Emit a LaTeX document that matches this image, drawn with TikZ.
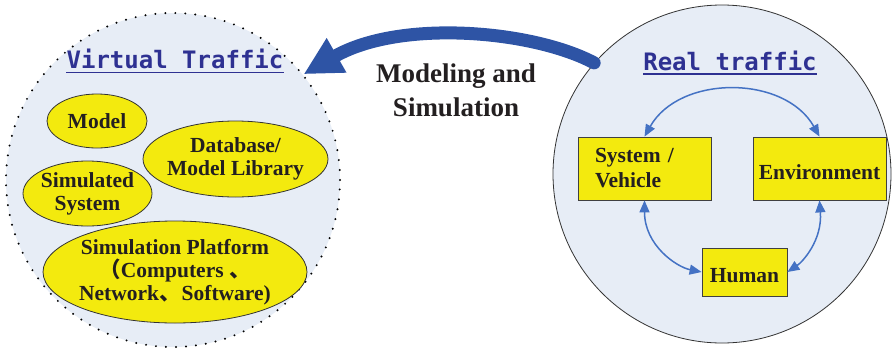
\documentclass[tikz,border=0pt]{standalone}
\usepackage{fontspec}
\setmainfont{Liberation Serif}
\newfontfamily\monofont{DejaVu Sans Mono}
\newfontfamily\cjk{Noto Sans CJK SC}
\usetikzlibrary{shapes.geometric,arrows.meta}
\definecolor{bgblue}{RGB}{231,237,246}
\definecolor{ylw}{RGB}{243,234,14}
\definecolor{titleblue}{RGB}{46,49,146}
\definecolor{arrowblue}{RGB}{68,114,196}
\definecolor{bigblue}{RGB}{46,84,165}
\definecolor{txt}{RGB}{35,31,32}
\begin{document}
\begin{tikzpicture}[x=1pt,y=-1pt,
  txtstyle/.style={font=\fontsize{21.5}{23}\selectfont\bfseries, text=txt, align=center},
  ell/.style={ellipse, draw=black!80, line width=0.8pt, fill=ylw, inner sep=0pt},
  box/.style={rectangle, draw=black!75, line width=0.8pt, fill=ylw, inner sep=0pt, txtstyle},
  title/.style={font=\monofont\bfseries\fontsize{24}{24}\selectfont, text=titleblue, inner sep=0pt},
  uline/.style={titleblue, line width=1.3pt},
  dbl/.style={arrowblue, line width=1.5pt, {Triangle[length=12pt,width=10pt]}-{Triangle[length=12pt,width=10pt]}},
  bigarrow/.style={bigblue, line width=13pt, line cap=round, -{Triangle[length=38pt,width=37pt]}},
]
\useasboundingbox (0,0) rectangle (896,351);
% circles
\node[circle, minimum size=334pt, fill=bgblue, draw=black, line width=2.2pt,
      dash pattern=on 0pt off 10pt, line cap=round, inner sep=0pt] (virt) at (173,180) {};
\node[circle, minimum size=338pt, fill=bgblue, draw=black!80, line width=0.8pt, inner sep=0pt] (real) at (722,174) {};
% titles
\node[title, anchor=base] (vt) at (175,68) {Virtual Traffic};
\draw[uline] ([yshift=-4pt]vt.south west) -- ([yshift=-4pt]vt.south east);
\node[title, anchor=base] (rt) at (730,70.5) {Real traffic};
\draw[uline] ([yshift=-3pt]rt.south west) -- ([yshift=-3pt]rt.south east);
% left ellipses
\node[ell, minimum width=100pt, minimum height=54pt, label={[txtstyle]center:Model}] (model) at (97,121) {};
\node[ell, minimum width=185pt, minimum height=76pt, label={[txtstyle]center:Database/\\Model Library}] (db) at (235.5,159) {};
\node[ell, minimum width=129pt, minimum height=65pt, label={[txtstyle]center:Simulated\\System}] (simsys) at (87.5,193.5) {};
\node[ell, minimum width=264pt, minimum height=102pt,
      label={[txtstyle]center:Simulation Platform\\{\cjk （}Computers {\cjk 、}\\Network{\cjk 、}\hspace{1pt}Software)}] (plat) at (175,272) {};
% right boxes
\node[box, minimum width=133pt, minimum height=63pt, text width=99pt, inner xsep=17pt, align=left,
      font=\fontsize{21.5}{25}\selectfont\bfseries] (sv) at (644.5,168.5) {System /\\Vehicle};
\node[box, minimum width=133pt, minimum height=63pt, text height=22pt, text depth=0pt] (env) at (819.5,168.5) {Environment};
\node[box, minimum width=85pt, minimum height=48pt, text height=20pt, text depth=0pt] (hum) at (744.5,272) {Human};
% interaction arrows
\draw[dbl] (sv.north) .. controls +(35,-62) and +(-35,-62) .. (env.north);
\draw[dbl] (sv.south) .. controls +(0,45) and +(-25,-5) .. (hum.west);
\draw[dbl] (env.south) .. controls +(3,40) and +(15,-10) .. (hum.east);
% big arrow
\draw[bigarrow] (real.139) .. controls (532,30) and (400,19) .. (virt.39);
\node[font=\fontsize{27}{34}\selectfont\bfseries, text=txt, align=center] (ms) at (456,90) {Modeling and\\Simulation};
\end{tikzpicture}
\end{document}
